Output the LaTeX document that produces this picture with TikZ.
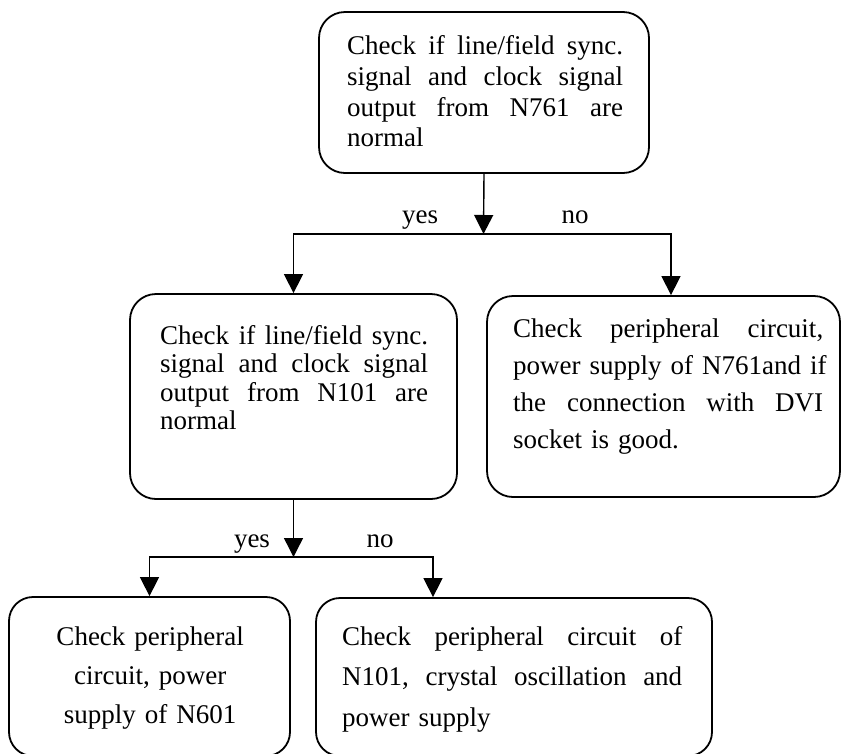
\documentclass[tikz,border=0pt]{standalone}
\usepackage{fontspec}
\setmainfont{Liberation Serif}
\usetikzlibrary{arrows.meta}
\newcommand\fjline[1]{\hbox to \hsize{#1}\par}
\newcommand\lfline[1]{\hbox to \hsize{#1\hfil}\par}
\newcommand\ctline[1]{\hbox to \hsize{\hfil#1\hfil}\par}
\newcommand\wsp{ \hfill}
\begin{document}
\begin{tikzpicture}[x=1pt,y=-1pt,
  box/.style={draw, line width=1.8pt, rounded corners=26pt, inner sep=0pt},
  txt/.style={inner sep=0pt, anchor=base west},
  arr/.style={line width=1.4pt, -{Triangle[width=19pt,length=19pt]}},
  lbl/.style={inner sep=0pt, anchor=base, font=\fontsize{27pt}{30pt}\selectfont}]
\useasboundingbox (0,0) rectangle (842,753);
% boxes
\node[box, minimum width=330pt, minimum height=161pt] (A) at (484,92.5) {};
\node[box, minimum width=327pt, minimum height=205pt] (B) at (293.5,396.5) {};
\node[box, minimum width=353pt, minimum height=201pt] (C) at (663.5,396.5) {};
\node[box, minimum width=281pt, minimum height=159pt, rounded corners=24pt] (D) at (149.5,676.5) {};
\node[box, minimum width=396pt, minimum height=158pt, rounded corners=24pt] (E) at (514,677) {};
% texts
\node[txt, text width=276pt, font=\fontsize{27pt}{30.8pt}\selectfont] (tA) at (347,54.5)
  {\fjline{Check\wsp if\wsp line/field\wsp sync.}\fjline{signal\wsp and\wsp clock\wsp signal}\fjline{output\wsp from\wsp N761\wsp are}\lfline{normal}};
\node[txt, text width=268pt, font=\fontsize{27pt}{28.5pt}\selectfont] (tB) at (160,344)
  {\fjline{Check\wsp if\wsp line/field\wsp sync.}\fjline{signal\wsp and\wsp clock\wsp signal}\fjline{output\wsp from\wsp N101\wsp are}\lfline{normal}};
\node[txt, text width=310pt, font=\fontsize{27pt}{37.2pt}\selectfont] (tC) at (513,337)
  {\fjline{Check\wsp peripheral\wsp circuit,}\fjline{power\wsp supply\wsp of\wsp N761and\wsp if}\fjline{the\wsp connection\wsp with\wsp DVI}\lfline{socket is good.}};
\node[txt, text width=260pt, font=\fontsize{27pt}{39.2pt}\selectfont] (tD) at (20,645)
  {\ctline{Check peripheral}\ctline{circuit, power}\ctline{supply of N601}};
\node[txt, text width=340pt, font=\fontsize{27pt}{40.8pt}\selectfont] (tE) at (342,645)
  {\fjline{Check\wsp peripheral\wsp circuit\wsp of}\fjline{N101,\wsp crystal\wsp oscillation\wsp and}\lfline{power supply}};
% junctions
\coordinate (j1) at (483.5,234);
\coordinate (j2) at (293.5,557);
% connectors
\draw[arr] (A.south) -- (j1);
\draw[arr] (j1) -| (B.north);
\draw[arr] (j1) -| ([xshift=7.5pt]C.north);
\draw[arr] (B.south) -- (j2);
\draw[arr] (j2) -| (D.north);
\draw[arr] (j2) -| ([xshift=-81pt]E.north);
% labels
\node[lbl] (y1) at (420,223) {yes};
\node[lbl] (n1) at (575,223) {no};
\node[lbl] (y2) at (252,547) {yes};
\node[lbl] (n2) at (380,547) {no};
\end{tikzpicture}
\end{document}
